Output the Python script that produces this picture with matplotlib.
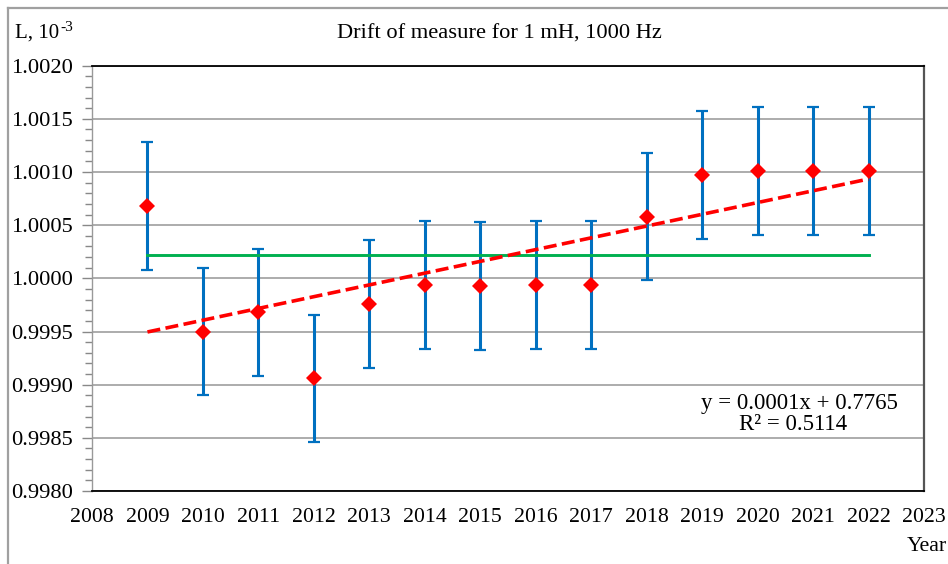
import matplotlib
matplotlib.use("Agg")
import matplotlib.pyplot as plt
import numpy as np
from matplotlib.lines import Line2D
from matplotlib.ticker import MultipleLocator, FormatStrFormatter

# ---- data ----
years = [2009, 2010, 2011, 2012, 2013, 2014, 2015, 2016, 2017, 2018, 2019, 2020, 2021, 2022]
values = [1.00068, 0.99950, 0.99968, 0.99906, 0.99976, 0.99994, 0.99993,
          0.99994, 0.99994, 1.00058, 1.00097, 1.00101, 1.00101, 1.00101]
errors = [0.0006] * len(years)
x_ticks = list(range(2008, 2024))
title = "Drift of measure for 1 mH, 1000 Hz"
eq_line1 = "y = 0.0001x + 0.7765"
eq_line2 = "R² = 0.5114"

plt.rcParams['font.family'] = ['Liberation Serif', 'DejaVu Serif']

W, H = 948, 564
fig = plt.figure(figsize=(W / 100, H / 100), dpi=100)
ax = fig.add_axes([92 / W, 1 - 491 / H, (924 - 92) / W, (491 - 65.7) / H])

x = np.array(years, dtype=float)
y = np.array(values)

# error bars
ax.errorbar(x, y, yerr=errors, fmt='none', ecolor='#0070C0', elinewidth=2.2,
            capsize=4, capthick=1.6, zorder=3)
# markers
ax.plot(x, y, linestyle='none', marker='D', ms=8.5, color='#FF0000',
        markeredgewidth=0, zorder=4)
# mean line
mean_val = y.mean()
ax.plot([x[0], x[-1]], [mean_val, mean_val], color='#00B050', lw=2.1, zorder=5)
# linear trend
coef = np.polyfit(x, y, 1)
tl, = ax.plot([x[0], x[-1]], np.polyval(coef, [x[0], x[-1]]), color='#FF0000',
              lw=2.6, zorder=6, dash_capstyle='butt')
tl.set_dashes((3.6, 1.5))

ax.set_xlim(2008, 2023)
ax.set_ylim(0.9980, 1.0020)
ax.set_xticks(x_ticks)
ax.yaxis.set_major_locator(MultipleLocator(0.0005))
ax.yaxis.set_minor_locator(MultipleLocator(0.0001))
ax.yaxis.set_major_formatter(FormatStrFormatter('%.4f'))
ax.grid(axis='y', which='major', color='#A6A6A6', lw=1.3, zorder=0)
ax.set_axisbelow(True)

ax.tick_params(axis='x', length=0, pad=12, labelsize=15.7)
ax.tick_params(axis='y', which='major', length=7, width=1, color='#888888',
               pad=7, labelsize=16.2, direction='out')
ax.tick_params(axis='y', which='minor', length=5, width=1, color='#888888',
               direction='out')

ax.spines['top'].set_color('black')
ax.spines['top'].set_linewidth(1.3)
ax.spines['bottom'].set_color('black')
ax.spines['bottom'].set_linewidth(1.3)
ax.spines['left'].set_color('#999999')
ax.spines['left'].set_linewidth(1.0)
ax.spines['right'].set_color('#555555')
ax.spines['right'].set_linewidth(1.6)

# texts
fig.text(499 / W, 1 - 34 / H, title, ha='center', va='center', fontsize=16.2)
lab = fig.text(15 / W, 1 - 38 / H, 'L, 10', ha='left', va='baseline', fontsize=15)
fig.canvas.draw()
bb = lab.get_window_extent(renderer=fig.canvas.get_renderer())
fig.text((bb.x1 + 1) / W, 1 - 31 / H, '-3', ha='left', va='baseline', fontsize=11)
fig.text(947 / W, 1 - 551 / H, 'Year', ha='right', va='baseline', fontsize=15.7)
fig.text(799 / W, 1 - 404 / H, eq_line1, ha='center', va='center', fontsize=16.5)
fig.text(793 / W, 1 - 425 / H, eq_line2, ha='center', va='center', fontsize=16.5)

# chart border (partially cropped frame)
fig.add_artist(Line2D([8 / W, 8 / W], [0, 1 - 8 / H], transform=fig.transFigure,
                      color='#A0A0A0', lw=1.6))
fig.add_artist(Line2D([8 / W, 1], [1 - 8 / H, 1 - 8 / H], transform=fig.transFigure,
                      color='#A0A0A0', lw=1.6))

fig.savefig('out.png', dpi=100)
